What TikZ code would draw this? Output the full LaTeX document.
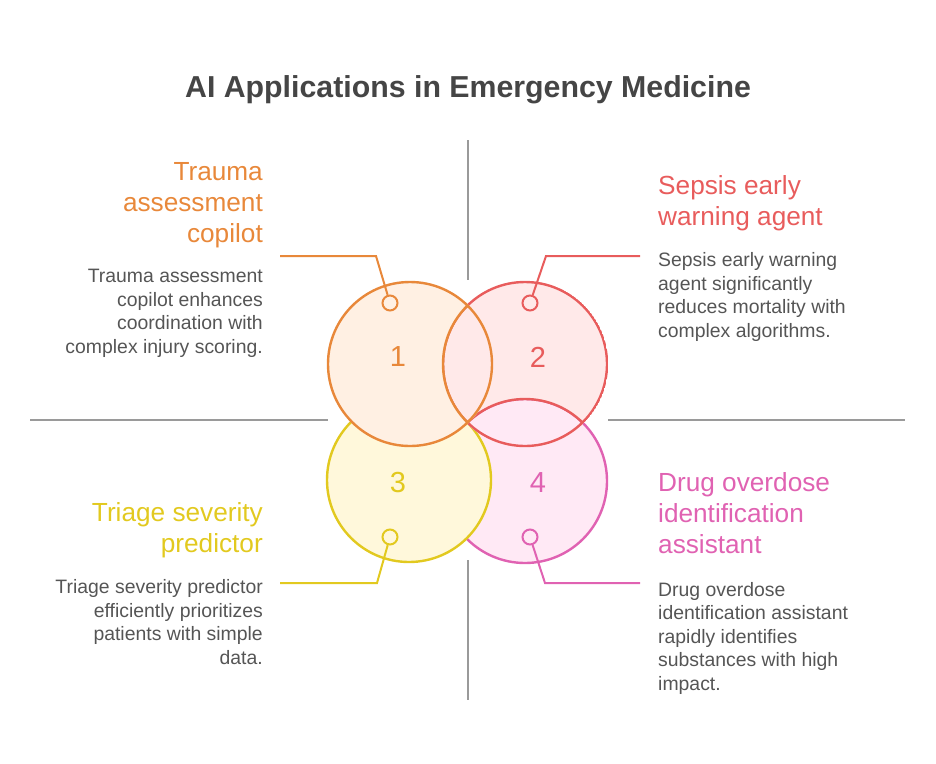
\documentclass[tikz,border=0pt]{standalone}
\usepackage{fontspec}
\setmainfont{Liberation Sans}
\usetikzlibrary{positioning}

\definecolor{traumaline}{HTML}{E8883A}
\definecolor{traumafill}{HTML}{FFF0E3}
\definecolor{sepsisline}{HTML}{E85C5C}
\definecolor{sepsisfill}{HTML}{FFE9E9}
\definecolor{triageline}{HTML}{E2C91F}
\definecolor{triagefill}{HTML}{FFF8DB}
\definecolor{drugline}{HTML}{E062B2}
\definecolor{drugfill}{HTML}{FFE9F5}
\definecolor{rulegray}{HTML}{9A9A9A}
\definecolor{bodytext}{HTML}{555555}
\definecolor{titletext}{HTML}{454545}

\begin{document}
\begin{tikzpicture}[
  x=1pt, y=-1pt,
  disc/.style={line width=2.4pt},
  marker/.style={circle, draw, line width=2pt, minimum size=15pt, inner sep=0pt},
  leader/.style={line width=2pt},
  rule/.style={draw=rulegray, line width=2pt},
  num/.style={font=\fontsize{29}{29}\selectfont},
  head/.style={font=\fontsize{26.2}{31}\selectfont, inner sep=0pt},
  desc/.style={font=\fontsize{19.4}{23.4}\selectfont, text=bodytext, inner sep=0pt}
]
\useasboundingbox (0,0) rectangle (936,763);

% Title
\node[font=\bfseries\fontsize{30.3}{30}\selectfont, text=titletext, anchor=base] (title) at (468,97)
{AI Applications in Emergency Medicine};

% Quadrant rules
\coordinate (rule_top_a) at (468,140);
\coordinate (rule_top_b) at (468,280);
\coordinate (rule_bot_a) at (468,560);
\coordinate (rule_bot_b) at (468,700);
\coordinate (rule_left_a) at (30,420);
\coordinate (rule_left_b) at (328,420);
\coordinate (rule_right_a) at (608,420);
\coordinate (rule_right_b) at (905,420);
\draw[rule] (rule_top_a) -- (rule_top_b);
\draw[rule] (rule_bot_a) -- (rule_bot_b);
\draw[rule] (rule_left_a) -- (rule_left_b);
\draw[rule] (rule_right_a) -- (rule_right_b);

% Circle centres
\coordinate (c_trauma) at (410,364);
\coordinate (c_sepsis) at (525,364);
\coordinate (c_triage) at (409,480);
\coordinate (c_drug) at (525,481);

% Drug and triage discs
\filldraw[disc, draw=drugline, fill=drugfill] (c_drug) circle[radius=82pt];
\filldraw[disc, draw=triageline, fill=triagefill] (c_triage) circle[radius=82pt];

% Sepsis disc, tucked under the drug disc
\begin{scope}
  \clip (c_sepsis) circle[radius=83.2pt];
  \fill[sepsisfill, even odd rule] (c_sepsis) circle[radius=82pt] (c_drug) circle[radius=82pt];
  \draw[disc, sepsisline] (c_sepsis) circle[radius=82pt] (c_drug) circle[radius=82pt];
\end{scope}

% Trauma disc, tucked under the sepsis disc
\begin{scope}
  \clip (c_trauma) circle[radius=83.2pt];
  \fill[traumafill, even odd rule] (c_trauma) circle[radius=82pt] (c_sepsis) circle[radius=82pt];
  \draw[disc, traumaline] (c_trauma) circle[radius=82pt] (c_sepsis) circle[radius=82pt];
\end{scope}

% Numbers
\node[num, text=traumaline] (num_trauma) at (398,357) {1};
\node[num, text=sepsisline] (num_sepsis) at (538,357) {2};
\node[num, text=triageline] (num_triage) at (398,483) {3};
\node[num, text=drugline] (num_drug) at (538,483) {4};

% Markers and leaders
\node[marker, draw=traumaline, fill=traumafill] (mark_trauma) at (390,303) {};
\node[marker, draw=sepsisline, fill=sepsisfill] (mark_sepsis) at (530,303) {};
\node[marker, draw=triageline, fill=triagefill] (mark_triage) at (390,537) {};
\node[marker, draw=drugline, fill=drugfill] (mark_drug) at (530,537) {};

\coordinate (bend_trauma) at (376,256);
\coordinate (end_trauma) at (280,256);
\coordinate (bend_sepsis) at (546,256);
\coordinate (end_sepsis) at (640,256);
\coordinate (bend_triage) at (377,583);
\coordinate (end_triage) at (280,583);
\coordinate (bend_drug) at (545,583);
\coordinate (end_drug) at (640,583);

\draw[leader, traumaline] (mark_trauma) -- (bend_trauma) -- (end_trauma);
\draw[leader, sepsisline] (mark_sepsis) -- (bend_sepsis) -- (end_sepsis);
\draw[leader, triageline] (mark_triage) -- (bend_triage) -- (end_triage);
\draw[leader, drugline] (mark_drug) -- (bend_drug) -- (end_drug);

% Headings (anchored at the last line's baseline)
\node[head, text=traumaline, align=right, anchor=base east] (head_trauma) at (263,242)
{Trauma\\assessment\\copilot};
\node[head, text=sepsisline, align=left, anchor=base west] (head_sepsis) at (658,225)
{Sepsis early\\warning agent};
\node[head, text=triageline, align=right, anchor=base east] (head_triage) at (263,552)
{Triage severity\\predictor};
\node[head, text=drugline, align=left, anchor=base west] (head_drug) at (658,553)
{Drug overdose\\identification\\assistant};

% Descriptions
\node[desc, align=right, anchor=base east] (desc_trauma) at (263,353)
{Trauma assessment\\copilot enhances\\coordination with\\complex injury scoring.};
\node[desc, align=left, anchor=base west] (desc_sepsis) at (658,337)
{Sepsis early warning\\agent significantly\\reduces mortality with\\complex algorithms.};
\node[desc, align=right, anchor=base east] (desc_triage) at (263,664)
{Triage severity predictor\\efficiently prioritizes\\patients with simple\\data.};
\node[desc, align=left, anchor=base west] (desc_drug) at (658,690)
{Drug overdose\\identification assistant\\rapidly identifies\\substances with high\\impact.};

\end{tikzpicture}
\end{document}
